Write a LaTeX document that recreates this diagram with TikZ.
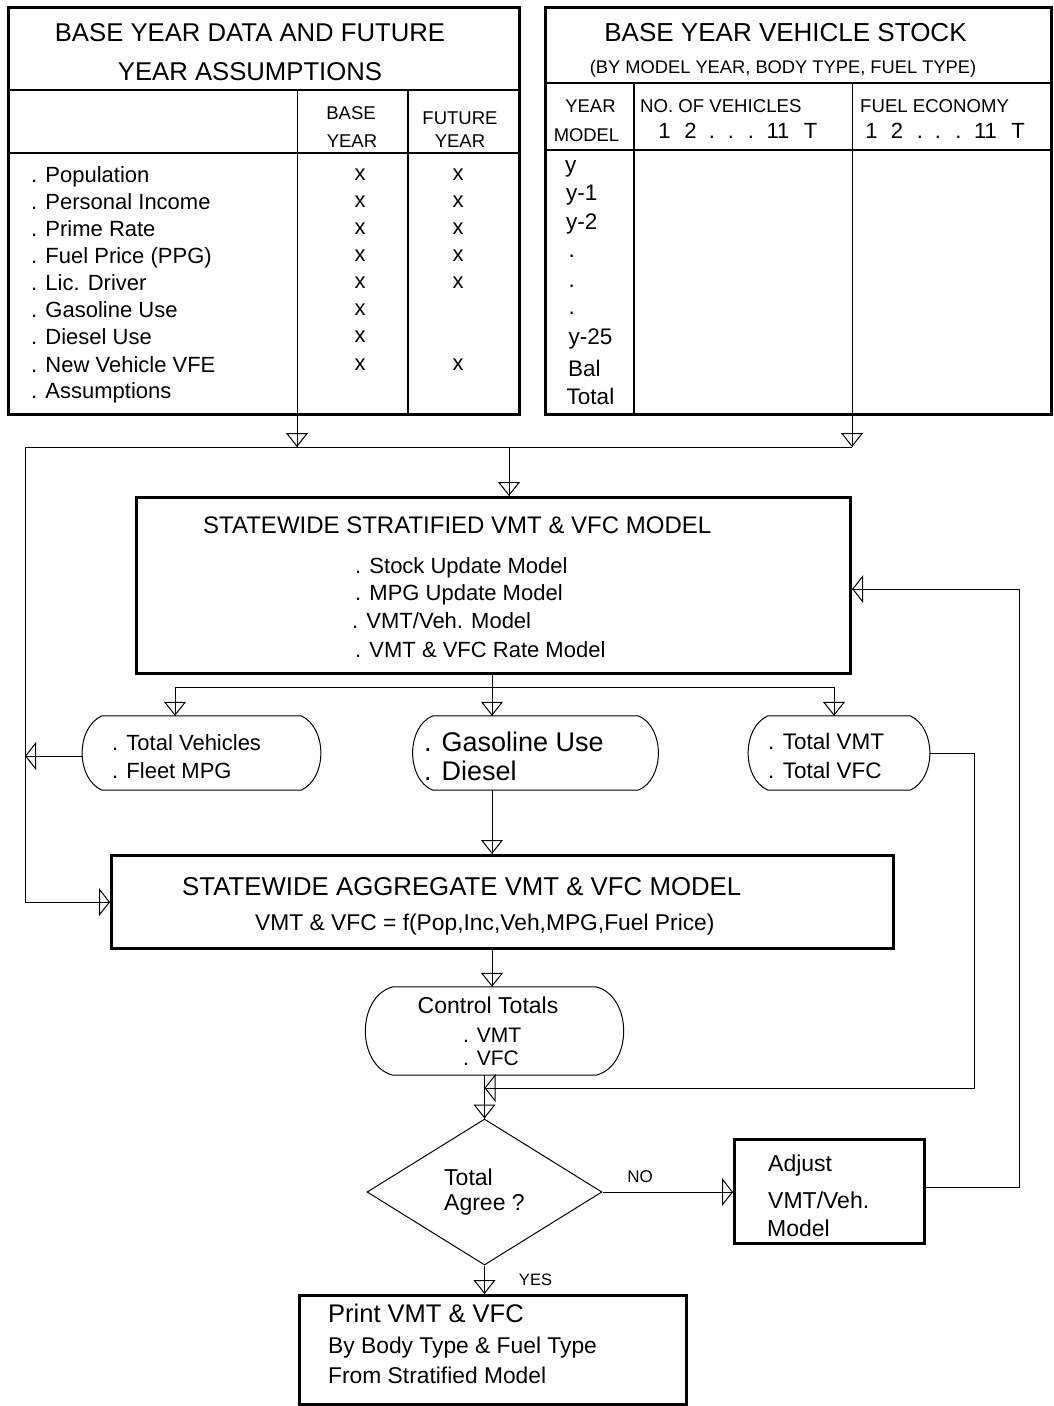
\documentclass[tikz,border=0pt]{standalone}
\usepackage{fontspec}
\setmainfont{Liberation Sans}
\usetikzlibrary{arrows.meta,shapes.geometric,calc}
\newcommand\fsz[1]{\fontsize{#1pt}{#1pt}\selectfont}
\newcommand\ovalpath[4]{\draw[ln] ([xshift=#2pt]#1.north west) -- ([xshift=-#2pt]#1.north east) to[bend left=#3,looseness=#4] ([xshift=-#2pt]#1.south east) -- ([xshift=#2pt]#1.south west) to[bend left=#3,looseness=#4] ([xshift=#2pt]#1.north west);}
\begin{document}
\begin{tikzpicture}[x=1pt,y=-1pt,
  thickbox/.style={draw, rectangle, line width=3.2pt, inner sep=0pt, anchor=north west},
  plain/.style={rectangle, inner sep=0pt},
  tx/.style={inner sep=0pt, anchor=base west},
  tc/.style={inner sep=0pt, anchor=base},
  ln/.style={line width=1pt},
  tl/.style={line width=1.2pt},
  va/.style={ln, -{Triangle[open,length=14pt,width=22pt]}, postaction={draw,-}},
  ha/.style={ln, -{Triangle[open,length=11pt,width=28pt]}, postaction={draw,-}}]
\useasboundingbox (0,0) rectangle (1053,1406);
\fill[white] (0,0) rectangle (1053,1406);

% ---------------- Box 1
\node[thickbox, minimum width=511pt, minimum height=407pt] (b1) at (7,6) {};
\draw[tl] (7,90) -- (518,90);
\draw[tl] (7,153) -- (518,153);
\draw[tl] (408,90) -- (408,413);
\node[tc, font=\fsz{25.7}] (b1t1) at (250,41) {BASE YEAR DATA AND FUTURE};
\node[tc, font=\fsz{25.7}] (b1t2) at (250,80) {YEAR ASSUMPTIONS};
\node[tc, font=\fsz{18.5}] (h1a) at (351,119) {BASE};
\node[tc, font=\fsz{18.5}] (h1b) at (352,147) {YEAR};
\node[tc, font=\fsz{18.5}] (h2a) at (460,124) {FUTURE};
\node[tc, font=\fsz{18.5}] (h2b) at (460,147) {YEAR};
\foreach \t/\yy [count=\i] in {Population/182, Personal Income/209, Prime Rate/236, Fuel Price (PPG)/263, Lic. Driver/290, Gasoline Use/317, Diesel Use/344, New Vehicle VFE/372, Assumptions/398}
  \node[tx, font=\fsz{22}] (r\i) at (31,\yy) {. \t};
\foreach \yy [count=\i] in {180,207,234,261,288,315,342,370}
  \node[tc, font=\fsz{22}] (xb\i) at (360,\yy) {x};
\foreach \yy [count=\i] in {180,207,234,261,288,370}
  \node[tc, font=\fsz{22}] (xf\i) at (458,\yy) {x};

% ---------------- Box 2
\node[thickbox, minimum width=506pt, minimum height=407pt] (b2) at (544,6) {};
\draw[tl] (544,83) -- (1050,83);
\draw[tl] (544,150) -- (1050,150);
\draw[tl] (634,83) -- (634,413);
\node[tc, font=\fsz{26}] (b2t1) at (785.5,41) {BASE YEAR VEHICLE STOCK};
\node[tc, font=\fsz{18.3}] (b2t2) at (783,73) {(BY MODEL YEAR, BODY TYPE, FUEL TYPE)};
\node[tc, font=\fsz{18.4}] (ym1) at (590.5,112) {YEAR};
\node[tc, font=\fsz{18.4}] (ym2) at (586.5,141) {MODEL};
\node[tx, font=\fsz{18.6}] (nv) at (640,112) {NO. OF VEHICLES};
\node[tx, font=\fsz{18.6}] (fe) at (860,112) {FUEL ECONOMY};
\foreach \xx/\s [count=\i] in {664.5/1, 690.5/2, 712/., 731/., 751/., 778/11, 810.5/T}
  \node[tc, font=\fsz{22}] (na\i) at (\xx,138) {\s};
\foreach \xx/\s [count=\i] in {871.5/1, 897/2, 920/., 938/., 958.5/., 985.5/11, 1018/T}
  \node[tc, font=\fsz{22}] (nb\i) at (\xx,138) {\s};
\foreach \xx/\yy/\s [count=\i] in {565/172/y, 566/200/y-1, 566/229/y-2, 568.5/257/., 568.5/287/., 568.5/314/., 568.5/344/y-25, 568/376/Bal, 566.5/404/Total}
  \node[tx, font=\fsz{22.5}] (ry\i) at (\xx,\yy) {\s};

% ---------------- junction coordinates
\coordinate (J1) at (297,447);
\coordinate (J2) at (852,447);
\coordinate (JL) at (25,447);
\coordinate (JM) at (509,447);
\coordinate (S0) at (175,687);
\coordinate (S1) at (492,687);
\coordinate (S2) at (834,687);
\coordinate (FR) at (974,1088);
\coordinate (FB) at (1019,589);

% ---------------- main boxes
\node[thickbox, minimum width=714pt, minimum height=176pt] (st) at (135,496) {};
\node[tx, font=\fsz{24}] (stt) at (203,533) {STATEWIDE STRATIFIED VMT \& VFC MODEL};
\node[tx, font=\fsz{22}] (st1) at (355,573) {. Stock Update Model};
\node[tx, font=\fsz{22}] (st2) at (355,600) {. MPG Update Model};
\node[tx, font=\fsz{22}] (st3) at (352,628) {. VMT/Veh. Model};
\node[tx, font=\fsz{22}] (st4) at (355,657) {. VMT \& VFC Rate Model};

\node[plain, minimum width=239pt, minimum height=74pt] (o1) at (201.5,753) {};
\ovalpath{o1}{20}{65}{1}
\node[tx, font=\fsz{22}] (o1a) at (112,750) {. Total Vehicles};
\node[tx, font=\fsz{22}] (o1b) at (112,778) {. Fleet MPG};

\node[plain, minimum width=247pt, minimum height=74pt] (o2) at (535.5,753) {};
\ovalpath{o2}{21}{68}{1}
\node[tx, font=\fsz{27}] (o2a) at (424,751) {. Gasoline Use};
\node[tx, font=\fsz{27}] (o2b) at (424,780) {. Diesel};

\node[plain, minimum width=182pt, minimum height=74pt] (o3) at (839,753) {};
\ovalpath{o3}{20}{65}{1}
\node[tx, font=\fsz{22.5}] (o3a) at (768,749) {. Total VMT};
\node[tx, font=\fsz{22.5}] (o3b) at (768,778) {. Total VFC};

\node[thickbox, minimum width=782pt, minimum height=93pt] (ag) at (110,854) {};
\node[tx, font=\fsz{25.8}] (agt) at (182,895) {STATEWIDE AGGREGATE VMT \& VFC MODEL};
\node[tx, font=\fsz{22.8}] (agf) at (255,930) {VMT \& VFC = f(Pop,Inc,Veh,MPG,Fuel Price)};

\node[plain, minimum width=257pt, minimum height=88pt] (ctl) at (494.5,1031) {};
\ovalpath{ctl}{27}{75}{1.1}
\node[tc, font=\fsz{23}] (ct1) at (488,1013) {Control Totals};
\node[tx, font=\fsz{21}] (ct2) at (463,1042) {. VMT};
\node[tx, font=\fsz{21}] (ct3) at (463,1065) {. VFC};

\node[diamond, draw, ln, minimum width=235pt, minimum height=146pt, inner sep=0pt] (dia) at (484.5,1192) {};
\node[tx, font=\fsz{23}] (dt1) at (444,1185) {Total};
\node[tx, font=\fsz{23}] (dt2) at (444,1210) {Agree ?};

\node[thickbox, minimum width=190pt, minimum height=104pt] (adj) at (733,1138) {};
\node[tx, font=\fsz{23}] (ad1) at (768,1171) {Adjust};
\node[tx, font=\fsz{23}] (ad2) at (768,1208) {VMT/Veh.};
\node[tx, font=\fsz{23}] (ad3) at (767,1236) {Model};

\node[thickbox, minimum width=387pt, minimum height=109pt] (pr) at (298,1294) {};
\node[tx, font=\fsz{25.5}] (pr1) at (328,1322) {Print VMT \& VFC};
\node[tx, font=\fsz{22.8}] (pr2) at (328,1353) {By Body Type \& Fuel Type};
\node[tx, font=\fsz{22.8}] (pr3) at (328,1383) {From Stratified Model};

\node[tc, font=\fsz{17}] (lno) at (640,1182) {NO};
\node[tc, font=\fsz{16.5}] (lyes) at (535.5,1285) {YES};

% ---------------- connectors
\draw[va] (297,90) -- (J1);
\draw[va] (852,83) -- (J2);
\draw[ln] (JL) -- (J2);
\draw[va] (JM) -- (JM |- st.north);
\draw[ln] (st.south -| S1) -- (S1);
\draw[ln] (S0) -- (S2);
\draw[va] (S0) -- (S0 |- o1.north);
\draw[va] (S1) -- (S1 |- o2.north);
\draw[va] (S2) -- (S2 |- o3.north);
\draw[ha] (JL) |- (ag.west);
\draw[ha] ([yshift=-3pt]o1.west) -- ([yshift=-3pt]o1.west -| JL);
\draw[va] (o2.south -| S1) -- (ag.north -| S1);
\draw[va] (ag.south -| S1) -- (ctl.north -| S1);
\draw[va] (ctl.south -| dia.north) -- (dia.north);
\draw[ha] (o3.east) -| (FR) -- (FR -| dia.north);
\draw[ha] (dia.east) -- (adj.west |- dia.east);
\draw[ha] ([yshift=4pt]adj.east) -| (FB) -- (FB -| st.east);
\draw[va] (dia.south) -- (dia.south |- pr.north);
\end{tikzpicture}
\end{document}
